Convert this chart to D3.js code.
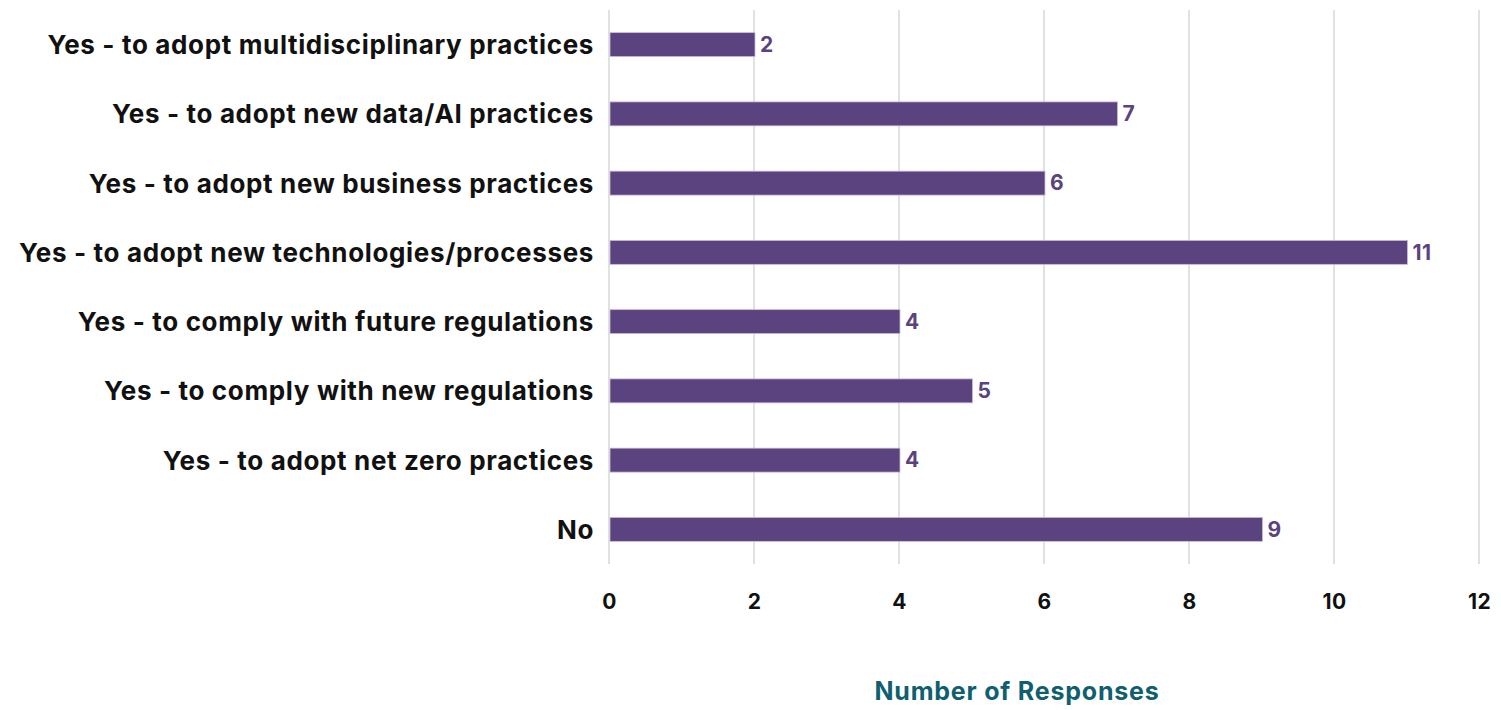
<!DOCTYPE html>
<html>
<head>
<meta charset="utf-8">
<script src="https://cdn.jsdelivr.net/npm/d3@7"></script>
<style>
  body { margin: 0; background: #fff; }
  text { font-family: Inter, "Open Sans", sans-serif; }
</style>
</head>
<body>
<div id="chart"></div>
<script>
// Data
const categories = [
  "Yes - to adopt multidisciplinary practices",
  "Yes - to adopt new data/AI practices",
  "Yes - to adopt new business practices",
  "Yes - to adopt new technologies/processes",
  "Yes - to comply with future regulations",
  "Yes - to comply with new regulations",
  "Yes - to adopt net zero practices",
  "No"
];
const responses = [2, 7, 6, 11, 4, 5, 4, 9];
const xTicks = [0, 2, 4, 6, 8, 10, 12];

// Dimensions and margins
const totalW = 1501, totalH = 710;
const margin = { top: 10, right: 22, bottom: 146, left: 609 };
const width = totalW - margin.left - margin.right;
const height = totalH - margin.top - margin.bottom;

const svg = d3.select("#chart")
    .append("svg")
    .attr("width", totalW)
    .attr("height", totalH);

const g = svg.append("g")
    .attr("transform", `translate(${margin.left},${margin.top})`);

// Scales
const xScale = d3.scaleLinear().domain([0, 12]).range([0, width]);
const yScale = d3.scaleBand().domain(categories).range([0, height]).paddingInner(0.654).paddingOuter(0.327);

// Gridlines
g.selectAll(".grid")
    .data(xTicks)
    .enter()
    .append("line")
    .attr("class", "grid")
    .attr("x1", d => xScale(d))
    .attr("x2", d => xScale(d))
    .attr("y1", 0)
    .attr("y2", height)
    .style("stroke", "#e1e1e1")
    .style("stroke-width", 2);

// Bars
g.selectAll(".bar")
    .data(responses)
    .enter()
    .append("rect")
    .attr("class", "bar")
    .attr("x", xScale(0) + 1)
    .attr("y", (d, i) => yScale(categories[i]))
    .attr("width", d => xScale(d) - xScale(0))
    .attr("height", yScale.bandwidth())
    .style("fill", "#5a437e")
    .style("stroke", "#c9bedb")
    .style("stroke-width", 0.8);

// Value labels
g.selectAll(".value")
    .data(responses)
    .enter()
    .append("text")
    .attr("class", "value")
    .attr("x", d => xScale(d) + 6)
    .attr("y", (d, i) => yScale(categories[i]) + yScale.bandwidth() / 2)
    .attr("dy", "0.35em")
    .style("fill", "#5a437e")
    .style("font-size", "21px")
    .style("font-weight", 700)
    .style("letter-spacing", "0.4px")
    .text(d => d);

// Y axis labels
const yAxis = d3.axisLeft(yScale).tickSize(0).tickPadding(15);
g.append("g")
    .attr("class", "y-axis")
    .call(yAxis)
    .call(a => a.select(".domain").remove())
    .selectAll("text")
    .attr("dy", "0.36em")
    .style("font-size", "26px")
    .style("font-weight", 700)
    .style("letter-spacing", "0.65px")
    .style("fill", "#111");

// X axis labels
const xAxis = d3.axisBottom(xScale).tickValues(xTicks).tickSize(0).tickPadding(30);
g.append("g")
    .attr("class", "x-axis")
    .attr("transform", `translate(0,${height})`)
    .call(xAxis)
    .call(a => a.select(".domain").remove())
    .selectAll("text")
    .style("font-size", "21px")
    .style("font-weight", 700)
    .style("letter-spacing", "0.4px")
    .style("fill", "#111");

// Axis title
svg.append("text")
    .attr("x", 1017)
    .attr("y", 700)
    .attr("text-anchor", "middle")
    .style("font-size", "25px")
    .style("font-weight", 700)
    .style("letter-spacing", "0.8px")
    .style("fill", "#0f5f6e")
    .text("Number of Responses");
</script>
</body>
</html>
